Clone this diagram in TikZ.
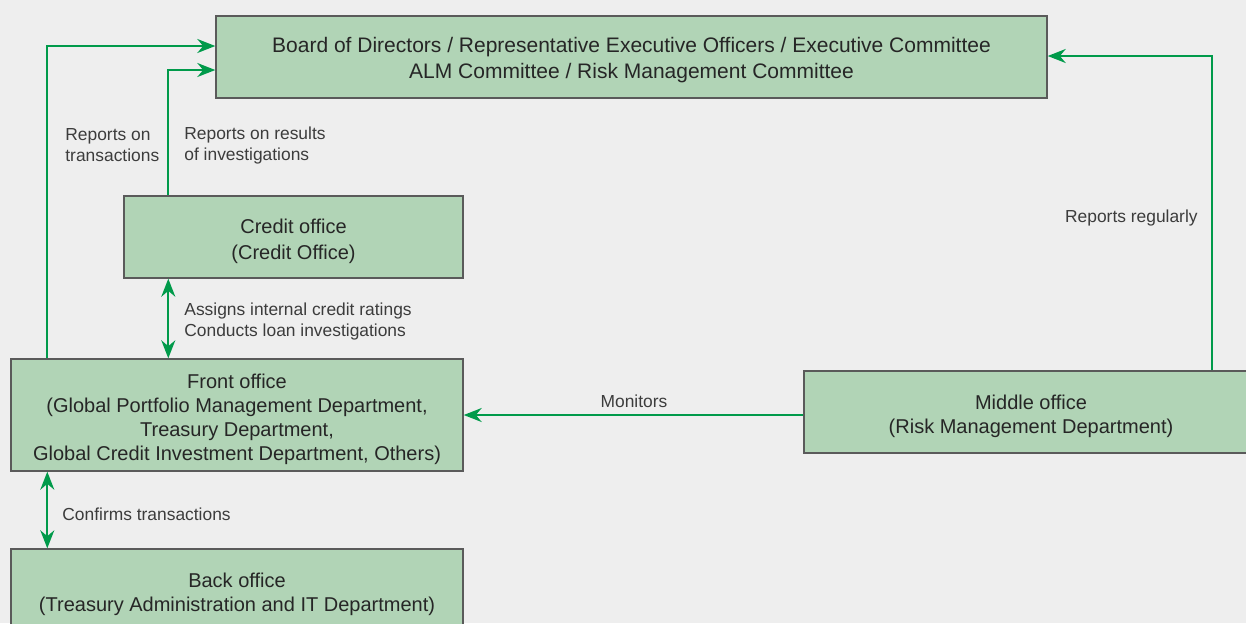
\documentclass[tikz,border=0pt]{standalone}
\usepackage{fontspec}
\setmainfont{Liberation Sans}
\usepackage{xcolor}
\usetikzlibrary{arrows.meta,positioning}
\definecolor{boxgreen}{HTML}{B1D4B6}
\definecolor{linegreen}{HTML}{009A4A}
\definecolor{bggray}{HTML}{EEEEEE}
\definecolor{framegray}{HTML}{5A5A5A}
\definecolor{textgray}{HTML}{3C3C3C}
\tikzset{
    every node/.style={font=\fontsize{8.7}{10.5}\selectfont, text=textgray}
}

\begin{document}
\begin{tikzpicture}[x=0.5pt,y=-0.5pt]
    % Define block styles
    \tikzstyle{office} = [rectangle, draw=framegray, line width=0.7pt, fill=boxgreen,
        align=center, text=black!85, font=\fontsize{10}{12}\selectfont, inner sep=0pt]
    \tikzstyle{note} = [align=left, inner sep=0pt, anchor=west]
    \tikzstyle{link} = [draw=linegreen, line width=1pt, -{Stealth[length=9pt,width=7pt]}]
    \tikzstyle{both} = [link, {Stealth[length=9pt,width=7pt]}-{Stealth[length=9pt,width=7pt]}]

    % Background
    \useasboundingbox (0,0) rectangle (1246,623);
    \clip (0,0) rectangle (1246,623);
    \fill[bggray] (0,0) rectangle (1246,623);

    % Place nodes
    \node [office, minimum width=415.5pt, minimum height=41pt, font=\fontsize{10.5}{13}\selectfont,
        text height=24pt] (board) at (631.5,57)
        {Board of Directors / Representative Executive Officers / Executive Committee\\
         ALM Committee / Risk Management Committee};
    \node [office, minimum width=169.5pt, minimum height=41pt, font=\fontsize{10}{13}\selectfont,
        text height=24.3pt] (credit) at (293.5,237) {Credit office\\(Credit Office)};
    \node [office, minimum width=226pt, minimum height=56pt, text height=47.3pt] (front) at (237,415)
        {Front office\\(Global Portfolio Management Department,\\Treasury Department,\\
         Global Credit Investment Department, Others)};
    \node [office, minimum width=227pt, minimum height=41pt, text height=23.3pt] (middle) at (1031,412)
        {Middle office\\(Risk Management Department)};
    \node [office, minimum width=226pt, minimum height=43pt, text height=21.3pt] (back) at (237,592)
        {Back office\\(Treasury Administration and IT Department)};

    % Labels
    \node [note] (ontrans) at (65,145.5) {Reports on\\transactions};
    \node [note] (onresults) at (184,145.5) {Reports on results\\of investigations};
    \node [note] (assigns) at (184,321) {Assigns internal credit ratings\\Conducts loan investigations};
    \node [note] (confirms) at (62,514) {Confirms transactions};
    \node [inner sep=0pt] (monitors) at (634,401) {Monitors};
    \node [note, anchor=east] (regularly) at (1198,218) {Reports regularly};

    % Connect nodes
    \draw [link] ([xshift=18.5pt]front.north west) |- ([yshift=5.5pt]board.west);
    \draw [link] ([xshift=22.5pt]credit.north west) |- ([yshift=-6.5pt]board.west);
    \draw [both] ([xshift=22.5pt]credit.south west) -- ([xshift=79pt]front.north west);
    \draw [both] ([xshift=18.5pt]front.south west) -- ([xshift=18.5pt]back.north west);
    \draw [link] ([yshift=-1.5pt]middle.west) -- ([yshift=-1.5pt]middle.west -| front.east);
    \draw [link] ([xshift=204.5pt]middle.north west) |- ([yshift=0.5pt]board.east);
\end{tikzpicture}
\end{document}
